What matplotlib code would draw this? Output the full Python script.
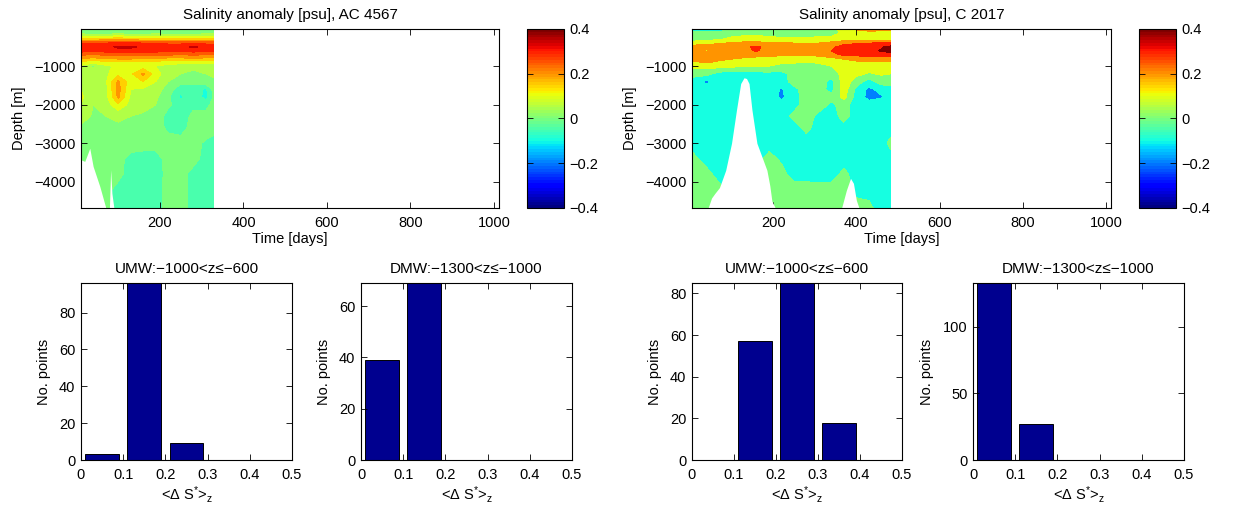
import numpy as np
import matplotlib
matplotlib.use('Agg')
import matplotlib.pyplot as plt
from matplotlib.colors import Normalize
from matplotlib.cm import ScalarMappable

plt.rcParams['font.family'] = ['Liberation Sans', 'DejaVu Sans']
plt.rcParams['mathtext.fontset'] = 'custom'
plt.rcParams['mathtext.rm'] = 'Liberation Sans'
plt.rcParams['mathtext.it'] = 'Liberation Sans'
plt.rcParams['font.size'] = 10.5
plt.rcParams['axes.linewidth'] = 0.8

# ---- data ----
DEPTH = [-30, -150, -300, -400, -500, -600, -700, -800, -900, -1000, -1200, -1400,
         -1600, -1800, -2000, -2300, -2600, -3000, -3400, -3800, -4200, -4700]

# AC 4567 salinity anomaly section (rows = DEPTH, cols = TIME_AC)
TIME_AC = [11, 40, 70, 100, 130, 160, 190, 220, 250, 280, 310, 329]
SAL_AC = [
    [0.02, 0.02, -0.02, 0.02, -0.02, -0.02, 0.02, -0.02, -0.02, 0.02, -0.02, -0.02],
    [0.04, 0.03, 0.03, 0.04, 0.03, 0.03, 0.04, 0.03, 0.03, 0.03, 0.04, 0.04],
    [0.17, 0.17, 0.18, 0.18, 0.18, 0.17, 0.17, 0.17, 0.17, 0.17, 0.17, 0.17],
    [0.30, 0.29, 0.30, 0.31, 0.31, 0.30, 0.30, 0.29, 0.29, 0.30, 0.29, 0.29],
    [0.34, 0.33, 0.33, 0.36, 0.36, 0.34, 0.33, 0.33, 0.33, 0.36, 0.33, 0.33],
    [0.32, 0.31, 0.32, 0.33, 0.33, 0.32, 0.32, 0.31, 0.31, 0.32, 0.31, 0.31],
    [0.26, 0.25, 0.26, 0.27, 0.27, 0.26, 0.26, 0.26, 0.25, 0.26, 0.25, 0.25],
    [0.20, 0.19, 0.20, 0.21, 0.21, 0.20, 0.20, 0.19, 0.19, 0.20, 0.19, 0.19],
    [0.13, 0.12, 0.13, 0.14, 0.14, 0.14, 0.13, 0.12, 0.12, 0.12, 0.11, 0.11],
    [0.09, 0.04, 0.09, 0.11, 0.11, 0.12, 0.10, 0.08, 0.07, 0.06, 0.06, 0.06],
    [0.08, 0.07, 0.09, 0.13, 0.14, 0.21, 0.12, 0.07, 0.05, 0.04, 0.05, 0.06],
    [0.09, 0.07, 0.09, 0.21, 0.12, 0.15, 0.10, 0.05, 0.02, 0.01, 0.03, 0.04],
    [0.10, 0.07, 0.08, 0.22, 0.10, 0.09, 0.07, 0.03, -0.04, -0.02, -0.06, 0.02],
    [0.11, 0.06, 0.08, 0.21, 0.09, 0.08, 0.06, 0.01, -0.06, -0.01, -0.07, 0.01],
    [0.10, 0.05, 0.07, 0.14, 0.08, 0.07, 0.05, 0.01, -0.03, -0.01, -0.02, 0.02],
    [0.09, 0.04, 0.05, 0.06, 0.05, 0.04, 0.03, -0.02, -0.02, 0.01, 0.02, 0.02],
    [0.03, 0.03, 0.04, 0.04, 0.03, 0.03, 0.02, -0.01, -0.02, 0.02, 0.03, 0.02],
    [0.02, 0.03, 0.03, 0.02, 0.03, 0.02, 0.02, 0.02, 0.02, 0.02, -0.01, -0.02],
    [0.02, 0.02, 0.03, 0.02, -0.02, -0.02, -0.02, 0.02, 0.02, 0.02, -0.02, -0.02],
    [0.02, 0.02, 0.02, 0.02, -0.03, -0.03, -0.03, 0.02, 0.02, -0.02, -0.03, -0.03],
    [0.02, 0.02, 0.02, -0.02, -0.03, -0.03, -0.02, 0.02, 0.02, -0.02, -0.03, -0.03],
    [0.02, 0.02, 0.02, -0.02, -0.03, -0.03, -0.02, 0.02, 0.02, -0.02, -0.03, -0.03],
]
# deepest sampled level (white below)
BOTTOM_T_AC = [11, 20, 32, 40, 56, 71, 79, 82, 85, 90]
BOTTOM_Z_AC = [-3430, -3470, -3130, -3600, -4120, -4700, -4700, -3690, -4300, -4700]

# C 2017 salinity anomaly section
TIME_C = [5, 40, 70, 100, 130, 160, 190, 220, 250, 280, 310, 340, 370, 400, 430, 460, 482]
SAL_C = [
    [-0.05, -0.05, -0.05, -0.05, -0.05, -0.05, -0.04, 0.04, 0.05, 0.05, 0.05, 0.06, 0.14, 0.22, 0.25, 0.25, 0.24],
    [0.04, 0.04, 0.05, 0.07, 0.08, 0.08, 0.07, 0.05, 0.05, 0.05, 0.06, 0.07, 0.12, 0.15, 0.15, 0.14, 0.14],
    [0.06, 0.07, 0.09, 0.12, 0.13, 0.13, 0.13, 0.12, 0.12, 0.12, 0.13, 0.13, 0.15, 0.16, 0.16, 0.15, 0.15],
    [0.14, 0.16, 0.19, 0.21, 0.23, 0.23, 0.22, 0.21, 0.20, 0.20, 0.20, 0.23, 0.27, 0.29, 0.30, 0.31, 0.31],
    [0.25, 0.26, 0.26, 0.27, 0.28, 0.32, 0.26, 0.25, 0.24, 0.24, 0.25, 0.28, 0.34, 0.36, 0.37, 0.39, 0.43],
    [0.26, 0.18, 0.24, 0.26, 0.27, 0.31, 0.26, 0.25, 0.24, 0.24, 0.25, 0.30, 0.35, 0.36, 0.37, 0.41, 0.43],
    [0.25, 0.26, 0.24, 0.25, 0.24, 0.23, 0.22, 0.22, 0.21, 0.21, 0.22, 0.27, 0.32, 0.33, 0.34, 0.35, 0.36],
    [0.24, 0.25, 0.23, 0.21, 0.19, 0.18, 0.17, 0.16, 0.16, 0.16, 0.17, 0.18, 0.21, 0.24, 0.25, 0.25, 0.25],
    [0.18, 0.21, 0.18, 0.15, 0.13, 0.12, 0.11, 0.11, 0.11, 0.10, 0.11, 0.13, 0.16, 0.18, 0.18, 0.19, 0.19],
    [0.13, 0.14, 0.13, 0.12, 0.11, 0.11, 0.10, 0.08, 0.06, 0.05, 0.07, 0.10, 0.13, 0.14, 0.14, 0.14, 0.14],
    [0.04, 0.03, -0.04, -0.05, -0.05, -0.04, -0.03, -0.04, 0.05, 0.05, 0.05, 0.04, 0.14, 0.12, 0.09, 0.11, 0.10],
    [-0.05, -0.12, -0.05, -0.05, -0.05, -0.05, -0.05, -0.05, 0.04, 0.05, 0.05, -0.03, 0.15, 0.06, -0.05, 0.05, 0.06],
    [-0.05, -0.06, -0.05, -0.05, -0.05, -0.05, -0.05, -0.11, -0.03, 0.05, 0.05, -0.04, 0.16, -0.03, -0.12, -0.07, -0.05],
    [-0.05, -0.05, -0.05, -0.05, -0.05, -0.05, -0.05, -0.12, -0.04, 0.05, 0.05, 0.03, 0.13, -0.04, -0.13, -0.11, -0.05],
    [-0.05, -0.05, -0.05, -0.05, -0.05, -0.05, -0.05, -0.06, -0.04, 0.05, 0.05, -0.02, 0.04, -0.05, -0.06, -0.05, -0.05],
    [-0.05, -0.05, -0.05, -0.05, -0.05, -0.05, -0.05, -0.05, 0.03, 0.05, -0.03, -0.05, 0.04, -0.05, -0.05, -0.05, -0.05],
    [-0.05, -0.05, -0.05, -0.05, -0.05, -0.05, -0.05, -0.05, -0.05, 0.03, -0.05, -0.05, -0.04, -0.05, -0.05, -0.05, -0.05],
    [-0.05, -0.05, -0.05, -0.05, -0.05, -0.05, -0.05, -0.05, -0.05, -0.05, -0.05, -0.05, -0.05, -0.05, -0.05, -0.05, 0.03],
    [0.04, -0.05, -0.05, -0.05, -0.05, -0.05, 0.04, -0.02, -0.05, -0.05, -0.05, -0.05, -0.05, -0.05, -0.05, -0.05, -0.05],
    [0.05, 0.04, -0.05, -0.05, -0.05, -0.05, 0.05, 0.04, -0.05, -0.05, -0.05, -0.05, 0.03, -0.05, -0.05, -0.05, -0.05],
    [0.05, 0.05, 0.04, -0.05, -0.05, -0.05, 0.05, 0.05, 0.05, 0.05, 0.04, 0.04, 0.05, -0.03, -0.04, -0.05, -0.05],
    [0.05, 0.05, 0.05, -0.05, -0.05, -0.05, 0.05, 0.05, 0.05, 0.05, 0.05, 0.05, 0.05, 0.04, 0.03, -0.05, -0.05],
]
BOTTOM_T_C = [5, 43, 52, 60, 71, 86, 100, 112, 122, 130, 136, 142, 149, 161, 185, 192, 197, 206,
              364, 376, 386, 393, 400, 407]
BOTTOM_Z_C = [-4700, -4700, -4420, -4300, -4150, -3700, -3000, -2130, -1450, -1300, -1320, -1450,
              -2130, -3000, -3700, -4100, -4500, -4700, -4700, -4220, -3910, -4040, -4480, -4700]

# histograms of <dS*>_z
BIN_CENTERS = [0.05, 0.15, 0.25, 0.35, 0.45]
UMW_AC = [3, 96, 9, 0, 0]
DMW_AC = [39, 69, 0, 0, 0]
UMW_C = [0, 57, 85, 18, 0]
DMW_C = [133, 27, 0, 0, 0]

CLIM = (-0.4, 0.4)
BAR_COLOR = '#00008F'
W, H = 1234, 508


def px_axes(fig, x0, y0, x1, y1):
    return fig.add_axes([x0 / W, 1 - y1 / H, (x1 - x0) / W, (y1 - y0) / H])


def style(ax):
    ax.tick_params(direction='in', top=True, right=True, length=4, width=0.6)
    ax.tick_params(axis='x', pad=6)
    ax.tick_params(axis='y', pad=4)


def draw_section(ax, cax, times, values, levels, bot_t, bot_z, xlim, title):
    jet = plt.get_cmap('jet')
    # matlab-like contourf: each band takes the colour of its lower level
    band_colors = [jet((lv - CLIM[0]) / (CLIM[1] - CLIM[0])) for lv in levels[:-1]]
    ax.contourf(times, DEPTH, np.array(values), levels=levels, colors=band_colors)
    ax.fill_between(bot_t, bot_z, -5000, color='white', linewidth=0, zorder=2)
    ax.set_xlim(*xlim)
    ax.set_ylim(-4680, -35)
    ax.set_xticks([200, 400, 600, 800, 1000])
    ax.set_yticks([-4000, -3000, -2000, -1000])
    ax.set_xlabel('Time [days]', labelpad=1)
    ax.set_ylabel('Depth [m]', labelpad=6)
    ax.set_title(title, fontsize=11, pad=7)
    style(ax)

    sm = ScalarMappable(norm=Normalize(*CLIM), cmap=plt.get_cmap('jet', 64))
    cb = ax.figure.colorbar(sm, cax=cax)
    cb.set_ticks([-0.4, -0.2, 0, 0.2, 0.4])
    cb.set_ticklabels(['\u22120.4', '\u22120.2', '0', '0.2', '0.4'])
    cb.outline.set_linewidth(0.8)
    cax.tick_params(direction='in', length=4, width=0.6, left=True, right=True, pad=4)


def draw_hist(ax, counts, yticks, title):
    ax.bar(BIN_CENTERS, counts, width=0.08, color=BAR_COLOR, edgecolor='black', linewidth=0.7)
    ax.set_xlim(0, 0.5)
    ax.set_ylim(0, max(counts))
    ax.set_xticks([0, 0.1, 0.2, 0.3, 0.4, 0.5])
    ax.set_xticklabels(['0', '0.1', '0.2', '0.3', '0.4', '0.5'])
    ax.set_yticks(yticks)
    ax.set_xlabel(r'<$\Delta$ S$^{*}$>$_{z}$', labelpad=1)
    ax.set_ylabel('No. points', labelpad=6)
    ax.set_title(title, fontsize=11, pad=7)
    style(ax)


fig = plt.figure(figsize=(W / 100, H / 100), dpi=100)

ax1 = px_axes(fig, 81, 29, 499, 208)
cax1 = px_axes(fig, 527, 29, 564, 208)
draw_section(ax1, cax1, TIME_AC, SAL_AC, np.linspace(-0.4, 0.4, 17),
             BOTTOM_T_AC, BOTTOM_Z_AC, (11, 1012), 'Salinity anomaly [psu], AC 4567')

ax2 = px_axes(fig, 692, 29, 1111, 208)
cax2 = px_axes(fig, 1139, 29, 1176, 208)
draw_section(ax2, cax2, TIME_C, SAL_C, np.linspace(-0.4, 0.5, 10),
             BOTTOM_T_C, BOTTOM_Z_C, (5, 1012), 'Salinity anomaly [psu], C 2017')

h1 = px_axes(fig, 81, 283, 292, 460)
draw_hist(h1, UMW_AC, [0, 20, 40, 60, 80], 'UMW:\u22121000<z\u2264\u2212600')
h2 = px_axes(fig, 361, 283, 572, 460)
draw_hist(h2, DMW_AC, [0, 20, 40, 60], 'DMW:\u22121300<z\u2264\u22121000')
h3 = px_axes(fig, 692, 283, 902, 460)
draw_hist(h3, UMW_C, [0, 20, 40, 60, 80], 'UMW:\u22121000<z\u2264\u2212600')
h4 = px_axes(fig, 973, 283, 1184, 460)
draw_hist(h4, DMW_C, [0, 50, 100], 'DMW:\u22121300<z\u2264\u22121000')

fig.savefig('out.png', dpi=100)
